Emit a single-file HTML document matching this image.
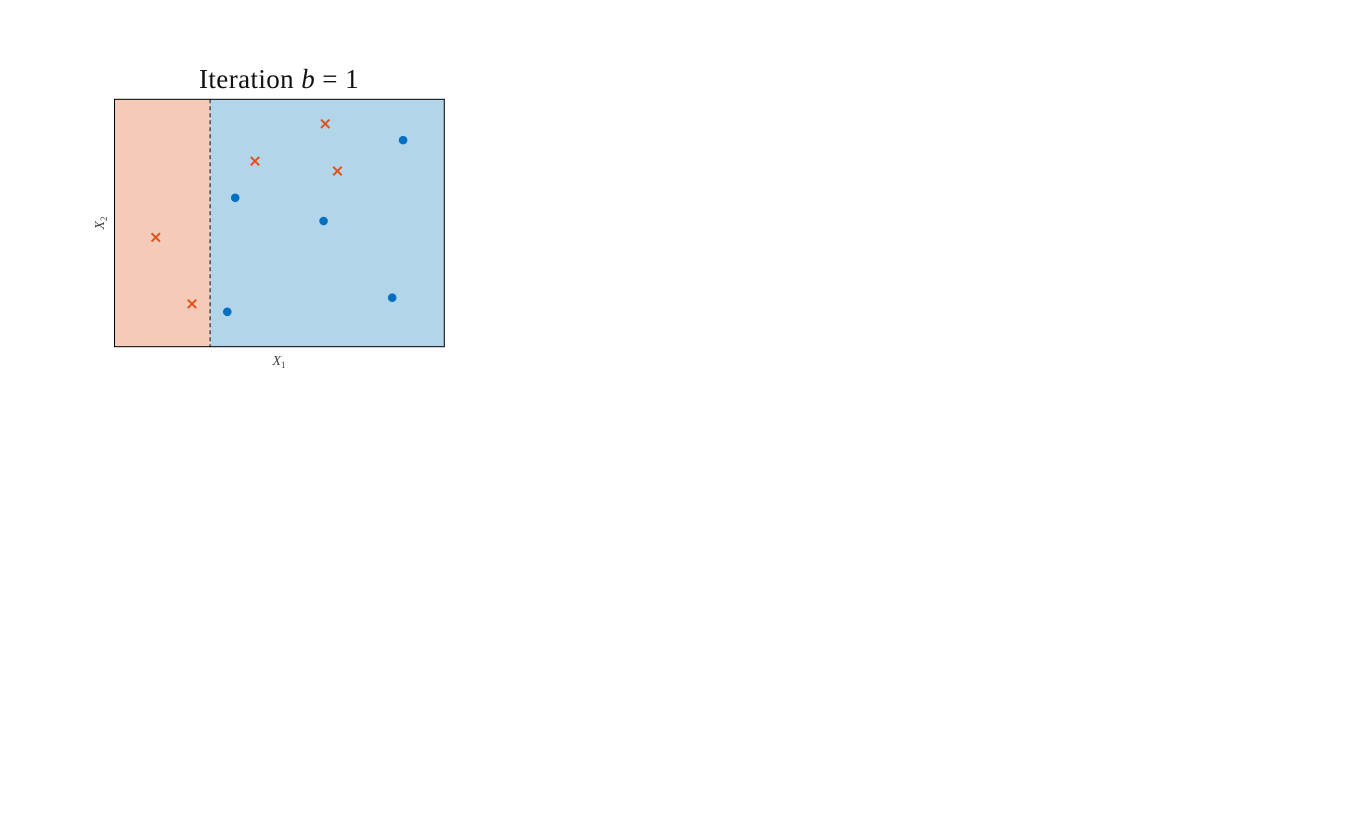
<!DOCTYPE html>
<html><head><meta charset="utf-8"><style>
html,body{margin:0;padding:0;background:#fff;width:1360px;height:837px;overflow:hidden}
svg text{font-family:"Liberation Serif",serif}
</style></head><body>
<svg id="chart" width="1360" height="837">
<text x="279" y="88" font-size="27" letter-spacing="0.4" text-anchor="middle" fill="#111">Iteration <tspan font-style="italic">b</tspan> = 1</text>
<text x="279" y="365" font-size="14" text-anchor="middle" fill="#444" font-style="italic">X<tspan font-size="9" dy="3" font-style="normal">1</tspan></text>
<text transform="translate(104,223) rotate(-90)" font-size="14" text-anchor="middle" fill="#444" font-style="italic">X<tspan font-size="9" dy="3" font-style="normal">2</tspan></text>
<g id="plot"></g>
</svg>
<script>
const splitX = 0.29;
const crossX = [0.639, 0.426, 0.676, 0.125, 0.235];
const crossY = [0.901, 0.750, 0.710, 0.442, 0.173];
const dotX = [0.875, 0.366, 0.634, 0.842, 0.342];
const dotY = [0.835, 0.602, 0.508, 0.198, 0.141];

const L=114.5,R=444.3,T=99.3,B=346.7;
const sx=v=>L+v*(R-L), sy=v=>B-v*(B-T);
const g=document.getElementById('plot');
const NS='http://www.w3.org/2000/svg';
function mk(t,a){const e=document.createElementNS(NS,t);for(const k in a)e.setAttribute(k,a[k]);g.appendChild(e);return e;}
let e;
e=mk('rect',{x:L,y:T,width:sx(splitX)-L,height:B-T,fill:'#f4cab9'});


e=mk('rect',{x:sx(splitX),y:T,width:R-sx(splitX),height:B-T,fill:'#b3d5ea'});


e=mk('line',{x1:sx(splitX),x2:sx(splitX),y1:T,y2:B,stroke:'#555',"stroke-width":1.6,"stroke-dasharray":'4,3'});


crossX.forEach((v,i)=>{const x=sx(v),y=sy(crossY[i]),s=4.2;
 e=mk('path',{d:`M${x-s},${y-s}L${x+s},${y+s}M${x-s},${y+s}L${x+s},${y-s}`,stroke:'#e0521b',"stroke-width":2});
 
 });
dotX.forEach((v,i)=>{
 e=mk('circle',{cx:sx(v),cy:sy(dotY[i]),r:4.3,fill:'#0570c0'});
 
 });
e=mk('rect',{x:L,y:T,width:R-L,height:B-T,fill:'none',stroke:'#000',"stroke-width":1});


</script>
</body></html>
